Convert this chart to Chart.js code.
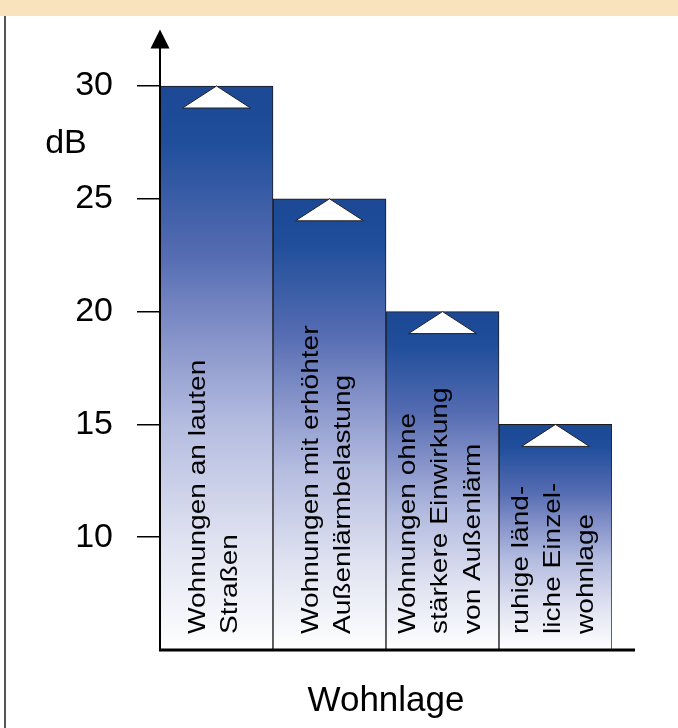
<!DOCTYPE html>
<html lang="de">
<head>
<meta charset="utf-8">
<title>Wohnlage – dB</title>
<script src="https://cdn.jsdelivr.net/npm/chart.js@4.4.1/dist/chart.umd.min.js"></script>
<style>
  html, body { margin: 0; padding: 0; background: #ffffff; }
  #wrap { position: relative; width: 678px; height: 728px; }
</style>
</head>
<body>
<div id="wrap"><canvas id="chart" width="678" height="728"></canvas></div>
<script>
// Kategorien (mehrzeilige Beschriftung in den Säulen)
const categories = [
  ['Wohnungen an lauten', 'Straßen'],
  ['Wohnungen mit erhöhter', 'Außenlärmbelastung'],
  ['Wohnungen ohne', 'stärkere Einwirkung', 'von Außenlärm'],
  ['ruhige länd-', 'liche Einzel-', 'wohnlage']
];
// Schallpegel je Wohnlage in dB
const levels = [30, 25, 20, 15];
// Achsenbeschriftung
const tickValues = [10, 15, 20, 25, 30];
const axisMin = 5;
const axisMax = 32.5;
const unitLabel = 'dB';
const axisTitle = 'Wohnlage';

const FONT = '"Liberation Sans", Arial, Helvetica, sans-serif';

// Verlauf von Dunkelblau (oben) nach Weiß (unten) über die Höhe jeder Säule
function barGradient(context) {
  const chart = context.chart;
  const y = chart.scales.y;
  if (!chart.chartArea || !y) return '#1c4894';
  const v = context.raw;
  const top = y.getPixelForValue(v);
  const bottom = y.getPixelForValue(axisMin);
  const g = chart.ctx.createLinearGradient(0, top, 0, bottom);
  g.addColorStop(0.00, 'rgb(28,72,148)');
  g.addColorStop(0.10, 'rgb(32,78,155)');
  g.addColorStop(0.30, 'rgb(85,108,178)');
  g.addColorStop(0.45, 'rgb(135,148,202)');
  g.addColorStop(0.60, 'rgb(180,188,224)');
  g.addColorStop(0.80, 'rgb(222,225,240)');
  g.addColorStop(1.00, 'rgb(255,255,255)');
  return g;
}

const decorations = {
  id: 'decorations',
  beforeDraw(chart) {
    const ctx = chart.ctx;
    ctx.save();
    // Kopfband
    ctx.fillStyle = '#f8e3bd';
    ctx.fillRect(0, 0, chart.width, 16);
    // linke Randlinie
    ctx.strokeStyle = '#555555';
    ctx.lineWidth = 2;
    ctx.beginPath();
    ctx.moveTo(5, 16);
    ctx.lineTo(5, chart.height);
    ctx.stroke();
    ctx.restore();
  },
  afterDatasetsDraw(chart) {
    const ctx = chart.ctx;
    const y = chart.scales.y;
    const yBase = y.getPixelForValue(axisMin);
    const meta = chart.getDatasetMeta(0);
    meta.data.forEach((bar, idx) => {
      // weißes Dreieck an der Säulenoberkante
      ctx.save();
      ctx.beginPath();
      ctx.moveTo(bar.x, bar.y);
      ctx.lineTo(bar.x + 34, bar.y + 22);
      ctx.lineTo(bar.x - 34, bar.y + 22);
      ctx.closePath();
      ctx.fillStyle = '#ffffff';
      ctx.fill();
      ctx.strokeStyle = '#222222';
      ctx.lineWidth = 1;
      ctx.stroke();
      ctx.restore();

      // senkrechte Beschriftung in der Säule
      const lines = categories[idx];
      const n = lines.length;
      ctx.save();
      ctx.translate(bar.x, yBase - 16);
      ctx.rotate(-Math.PI / 2);
      ctx.scale(1.17, 1);
      ctx.font = '24px ' + FONT;
      ctx.fillStyle = '#000000';
      ctx.textAlign = 'left';
      ctx.textBaseline = 'middle';
      lines.forEach((line, i) => {
        const off = (i - (n - 1) / 2) * 32.5 - 2;
        ctx.fillText(line, 0, off);
      });
      ctx.restore();
    });
  },
  afterDraw(chart) {
    const ctx = chart.ctx;
    const area = chart.chartArea;
    const y = chart.scales.y;
    const x0 = area.left;
    const yBase = y.getPixelForValue(axisMin);
    const yTop = y.getPixelForValue(axisMax);
    ctx.save();
    ctx.strokeStyle = '#000000';
    ctx.fillStyle = '#000000';
    // y-Achse mit Pfeil
    ctx.lineWidth = 2;
    ctx.beginPath();
    ctx.moveTo(x0, yBase);
    ctx.lineTo(x0, yTop + 18);
    ctx.stroke();
    ctx.beginPath();
    ctx.moveTo(x0, yTop);
    ctx.lineTo(x0 + 9.5, yTop + 19);
    ctx.lineTo(x0 - 9.5, yTop + 19);
    ctx.closePath();
    ctx.fill();
    // x-Achse
    ctx.lineWidth = 3;
    ctx.beginPath();
    ctx.moveTo(x0 - 1, yBase);
    ctx.lineTo(area.right + 23, yBase);
    ctx.stroke();
    // Einheit
    ctx.font = '34px ' + FONT;
    ctx.textAlign = 'center';
    ctx.textBaseline = 'alphabetic';
    ctx.fillText(unitLabel, 66, y.getPixelForValue(27.5) + 11);
    ctx.restore();
  }
};

new Chart(document.getElementById('chart'), {
  type: 'bar',
  data: {
    labels: categories,
    datasets: [{
      data: levels,
      backgroundColor: barGradient,
      borderColor: '#1a1a1a',
      borderWidth: 1,
      borderSkipped: 'start',
      categoryPercentage: 1.0,
      barPercentage: 1.0
    }]
  },
  options: {
    responsive: false,
    animation: false,
    devicePixelRatio: 1,
    layout: { padding: { top: 29.6, right: 66, bottom: 0, left: 0 } },
    plugins: {
      legend: { display: false },
      tooltip: { enabled: false }
    },
    scales: {
      x: {
        type: 'category',
        display: true,
        grid: { display: false },
        border: { display: false },
        ticks: { display: false },
        title: {
          display: true,
          text: axisTitle,
          color: '#000000',
          font: { family: FONT, size: 35 },
          padding: { top: 0, bottom: 5.5 }
        },
        afterFit(scale) { scale.height = 78; }
      },
      y: {
        type: 'linear',
        position: 'left',
        min: axisMin,
        max: axisMax,
        afterBuildTicks(scale) {
          scale.ticks = tickValues.map(v => ({ value: v }));
        },
        afterFit(scale) {
          scale.width = 160;
          scale.paddingTop = 0;
          scale.paddingBottom = 0;
        },
        grid: {
          drawOnChartArea: false,
          drawTicks: true,
          tickLength: 23,
          color: '#000000',
          lineWidth: 1.5
        },
        border: { display: false },
        ticks: {
          color: '#000000',
          padding: 24,
          font: { family: FONT, size: 34 }
        }
      }
    }
  },
  plugins: [decorations]
});
</script>
</body>
</html>
